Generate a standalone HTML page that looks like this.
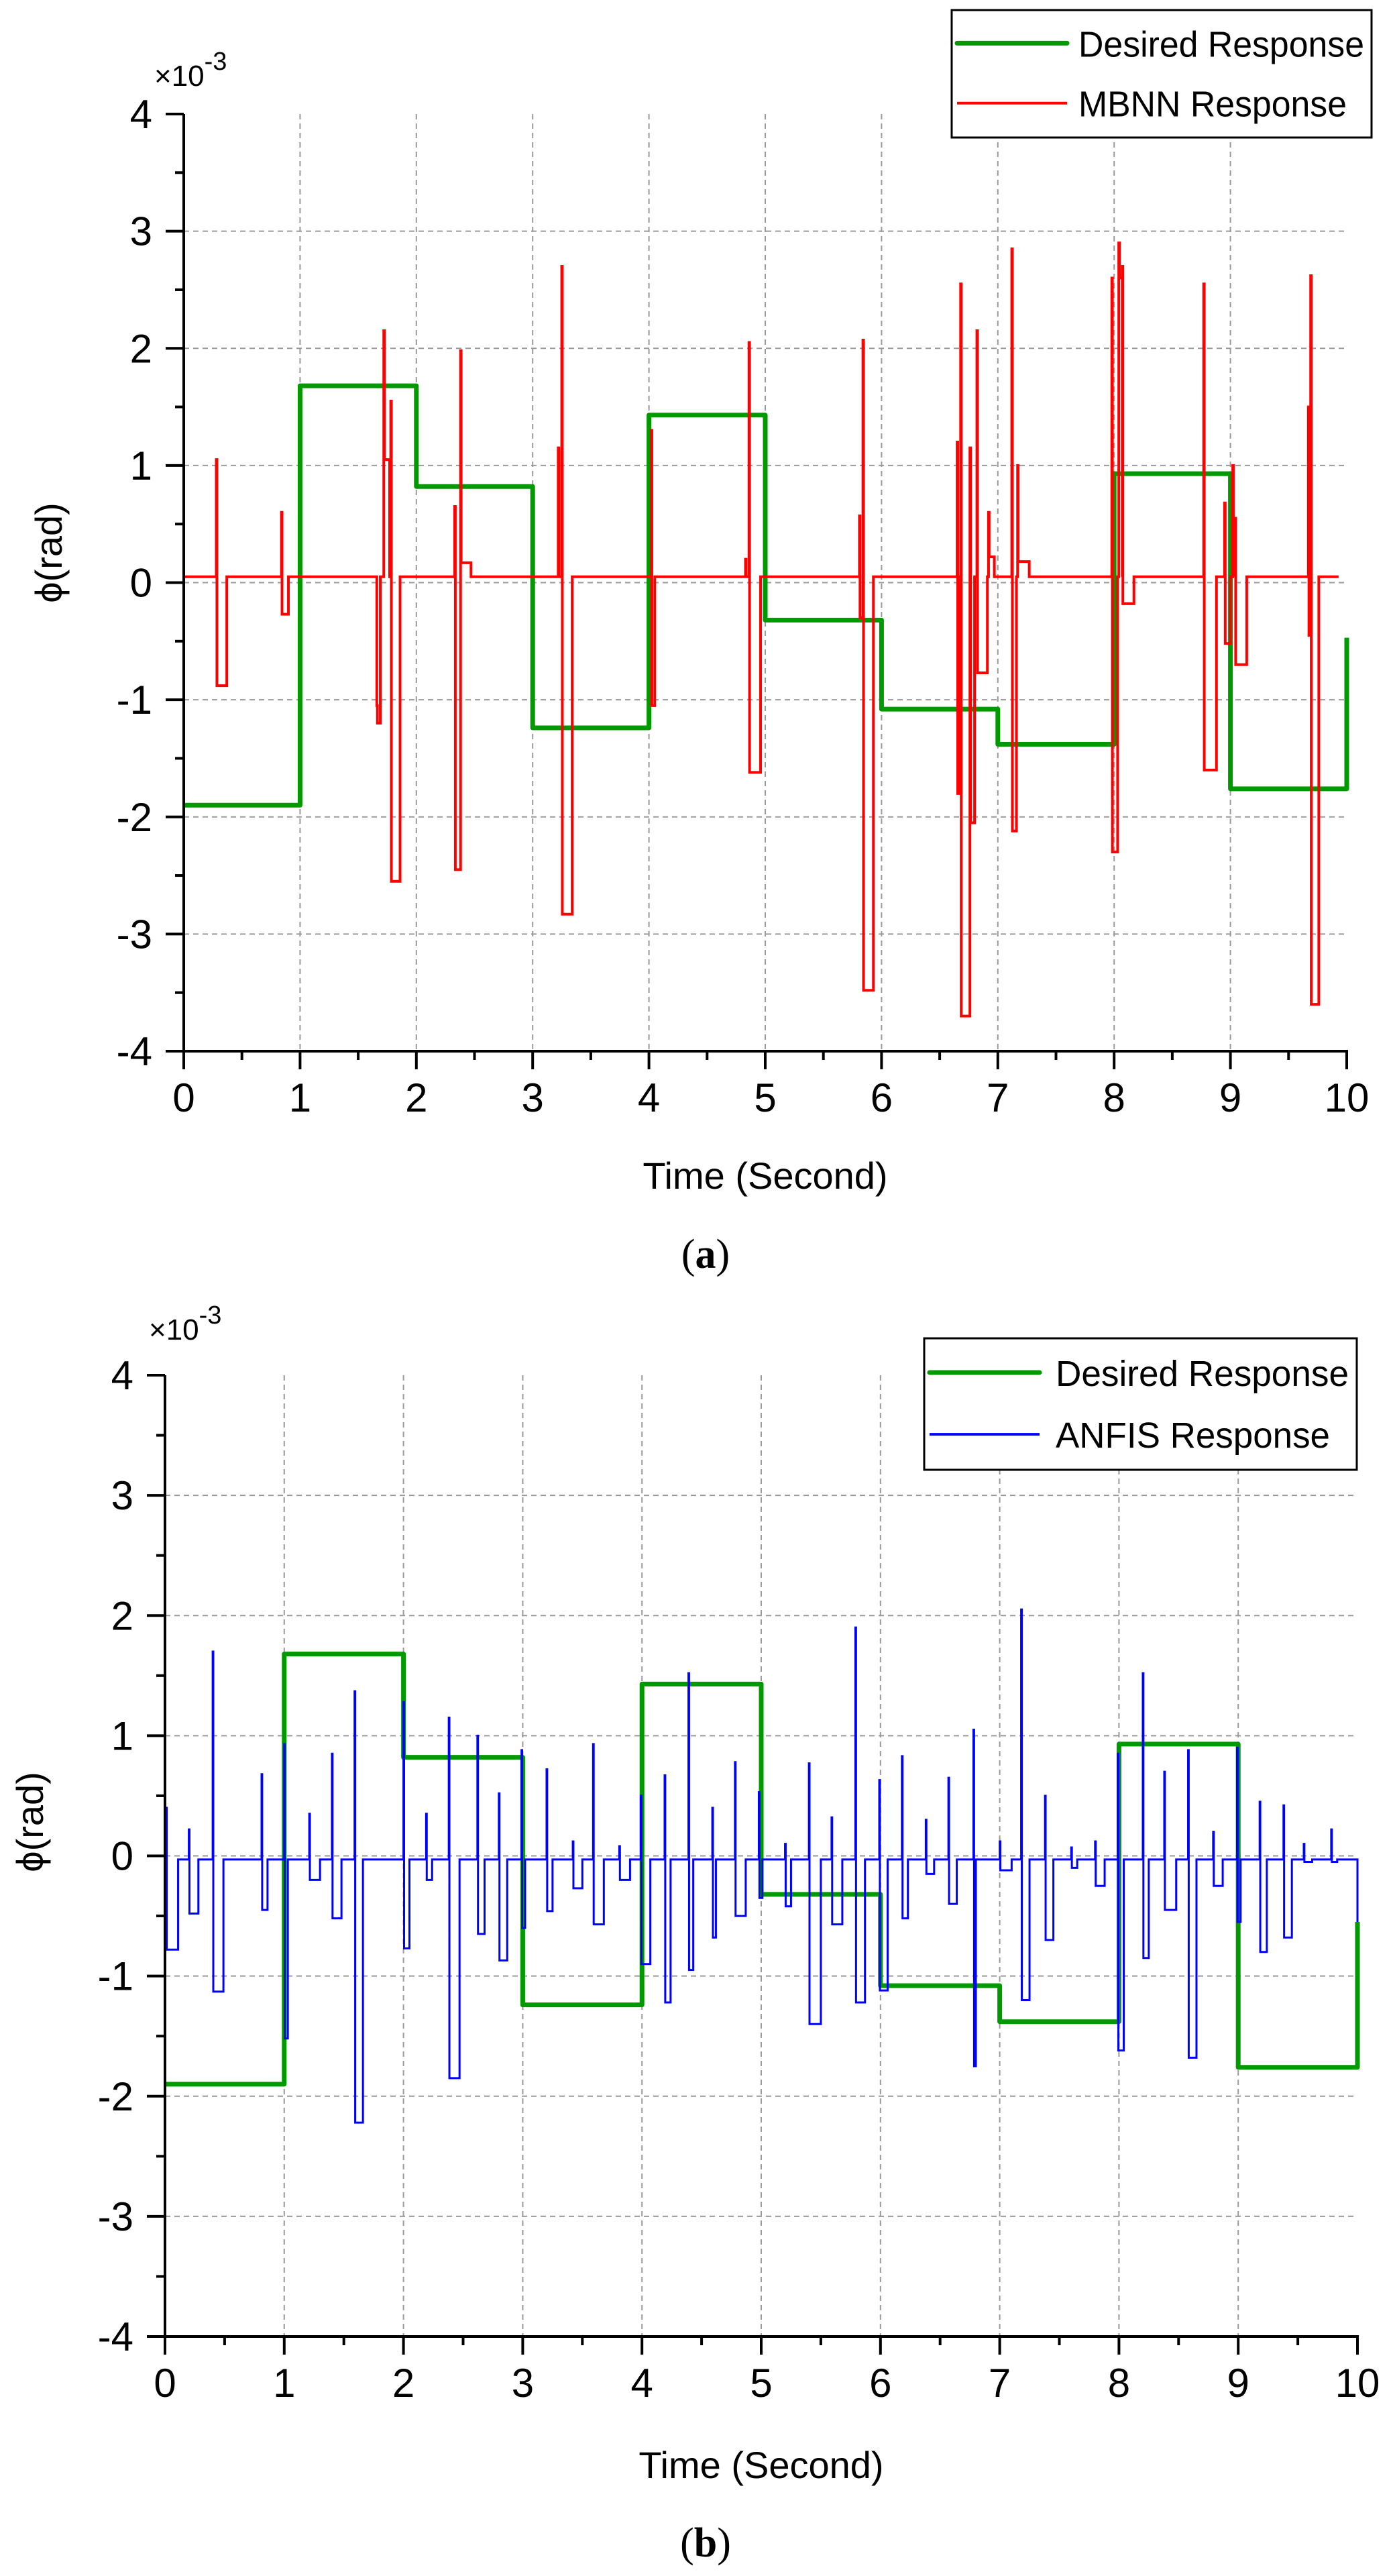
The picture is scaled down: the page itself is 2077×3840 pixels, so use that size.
<!DOCTYPE html>
<html><head><meta charset="utf-8"><style>
html,body{margin:0;padding:0;background:#fff;}
svg{display:block;}
text{font-family:"Liberation Sans",Arial,sans-serif;fill:#000;}
</style></head><body>
<svg id="fig" width="2077" height="3840" viewBox="0 0 2077 3840" xmlns="http://www.w3.org/2000/svg"></svg>
<script>
// ---- data ----
const xTicks = [0,1,2,3,4,5,6,7,8,9,10];
const yTicks = [-4,-3,-2,-1,0,1,2,3,4];
const desiredStart = [0,1,2,3,4,5,6,7,8,9];
const desiredValues = [-1.9,1.68,0.82,-1.24,1.43,-0.32,-1.08,-1.38,0.93,-1.76];
const desiredEndA = -0.47;
const desiredEndB = -0.55;
// MBNN response events: time, spike peak, step level, step duration
const redBase = 0.05;
const redT = [0.28,0.84,1.66,1.72,1.78,2.33,2.38,3.22,3.25,4.02,4.83,4.86,5.81,5.84,6.65,6.68,6.76,6.82,6.92,7.12,7.17,7.98,8.04,8.07,8.77,8.95,9.02,9.04,9.67,9.69];
const redPeak = [1.05,0.6,-1.05,2.15,1.55,0.65,1.98,1.15,2.7,1.3,0.2,2.05,0.57,2.07,1.2,2.55,1.15,2.15,0.6,2.85,1.0,2.6,2.9,2.7,2.55,0.68,1.0,0.55,1.5,2.62];
const redBlock = [-0.88,-0.27,-1.2,1.05,-2.55,-2.45,0.17,0.05,-2.83,-1.05,0.05,-1.62,-0.3,-3.48,-1.8,-3.7,-2.05,-0.77,0.22,-2.12,0.18,-2.3,2.6,-0.18,-1.6,-0.52,0.5,-0.7,-0.45,-3.6];
const redDur = [0.09,0.06,0.03,0.05,0.08,0.05,0.09,0.02,0.09,0.03,0.02,0.1,0.03,0.09,0.02,0.08,0.04,0.09,0.05,0.04,0.1,0.05,0.03,0.1,0.11,0.05,0.02,0.1,0.02,0.07];
const redEnd = 9.93;
// ANFIS response events
const blueBase = -0.03;
const blueT = [0.01,0.2,0.4,0.81,1.0,1.21,1.4,1.59,2.0,2.19,2.38,2.62,2.8,2.99,3.2,3.42,3.59,3.81,3.99,4.19,4.39,4.59,4.78,4.98,5.2,5.4,5.59,5.79,5.99,6.18,6.38,6.57,6.78,7.0,7.18,7.38,7.6,7.8,7.99,8.2,8.38,8.58,8.79,8.99,9.18,9.38,9.55,9.78];
const bluePeak = [0.4,0.22,1.7,0.68,0.93,0.35,0.85,1.37,1.28,0.35,1.15,1.0,0.52,0.88,0.72,0.12,0.93,0.08,0.5,0.67,1.52,0.4,0.78,0.53,0.1,0.77,0.32,1.9,0.63,0.83,0.3,0.65,1.05,0.12,2.05,0.5,0.07,0.12,0.85,1.52,0.7,0.88,0.2,0.9,0.45,0.42,0.1,0.22];
const blueBlock = [-0.78,-0.48,-1.13,-0.45,-1.52,-0.2,-0.52,-2.22,-0.77,-0.2,-1.85,-0.65,-0.87,-0.6,-0.46,-0.27,-0.57,-0.2,-0.9,-1.22,-0.95,-0.68,-0.5,-0.35,-0.42,-1.4,-0.57,-1.22,-1.12,-0.52,-0.15,-0.4,-1.75,-0.12,-1.2,-0.7,-0.1,-0.25,-1.62,-0.85,-0.45,-1.68,-0.25,-0.55,-0.8,-0.68,-0.05,-0.05];
const blueDur = [0.1,0.08,0.09,0.05,0.03,0.09,0.08,0.07,0.05,0.05,0.09,0.06,0.07,0.03,0.05,0.08,0.09,0.09,0.08,0.05,0.04,0.03,0.09,0.03,0.05,0.1,0.09,0.08,0.07,0.05,0.07,0.07,0.02,0.1,0.07,0.07,0.05,0.08,0.05,0.05,0.1,0.07,0.08,0.03,0.06,0.07,0.07,0.05];
const blueEnd = 10.0;
const blueFinal = -0.55;

const NS = "http://www.w3.org/2000/svg";
const fig = document.getElementById('fig');
function mk(tag, attrs, parent){const e=document.createElementNS(NS,tag);for(const k in attrs)e.setAttribute(k,attrs[k]);(parent||fig).appendChild(e);return e;}

function panel(P){
  const g = mk('g',{});
  
  
  const sx = t => P.x0 + (P.x10-P.x0)*t/10;
  const sy = v => P.yB - (P.yB-P.yT)*(v+4)/8;
  const grid = mk('g',{stroke:'#9a9a9a','stroke-width':2,'stroke-dasharray':'8 6',fill:'none'},g);
  
  
  yTicks.forEach(v=>{ if(v>-4 && v<4){ mk('line',{x1:sx(0),x2:sx(10),y1:sy(v),y2:sy(v)},grid);} });
  xTicks.forEach(t=>{ if(t>0 && t<10){ mk('line',{x1:sx(t),x2:sx(t),y1:sy(4),y2:sy(-4)},grid);} });
  let d = 'M'+sx(desiredStart[0])+','+sy(desiredValues[0]);
  for(let i=0;i<desiredValues.length;i++){
    const tEnd = i+1<desiredStart.length?desiredStart[i+1]:10;
    d += ' L'+sx(tEnd)+','+sy(desiredValues[i]);
    if(i+1<desiredValues.length) d += ' L'+sx(tEnd)+','+sy(desiredValues[i+1]);
  }
  d += ' L'+sx(10)+','+sy(P.desEnd);
  const des = mk('path',{d:d,stroke:'#009900','stroke-width':7,fill:'none','stroke-linejoin':'round'},g);
  
  
  const T=P.T,Pk=P.Pk,B=P.B,D=P.D,base=P.base;
  let r = 'M'+sx(0)+','+sy(base);
  for(let i=0;i<T.length;i++){
    r += ' L'+sx(T[i])+','+sy(base)+' L'+sx(T[i])+','+sy(Pk[i])+' L'+sx(T[i]+0.005)+','+sy(Pk[i])+' L'+sx(T[i]+0.005)+','+sy(B[i])+' L'+sx(T[i]+D[i])+','+sy(B[i])+' L'+sx(T[i]+D[i])+','+sy(base);
  }
  r += ' L'+sx(P.end)+','+sy(base);
  if(P.final!==undefined) r += ' L'+sx(P.end)+','+sy(P.final);
  const resp = mk('path',{d:r,stroke:P.color,'stroke-width':P.lw,fill:'none'},g);
  
  
  const ax = mk('g',{stroke:'#000','stroke-width':4,fill:'none'},g);
  
  
  mk('line',{x1:sx(0),x2:sx(0),y1:sy(4),y2:sy(-4)+2},ax);
  mk('line',{x1:sx(0)-27,x2:sx(10)+2,y1:sy(-4),y2:sy(-4)},ax);
  for(let v=-4;v<=4;v+=0.5){ const L=Number.isInteger(v)?27:13; mk('line',{x1:sx(0)-L,x2:sx(0),y1:sy(v),y2:sy(v)},ax); }
  for(let t=0;t<=10;t+=0.5){ const L=Number.isInteger(t)?27:13; mk('line',{x1:sx(t),x2:sx(t),y1:sy(-4),y2:sy(-4)+L},ax); }
  yTicks.forEach(v=>{
    const tx = mk('text',{x:sx(0)-47,y:sy(v)+21,'font-size':60,'text-anchor':'end'},g);
    tx.textContent = String(v);
    
    
  });
  xTicks.forEach(t=>{
    const tx = mk('text',{x:sx(t),y:sy(-4)+90,'font-size':60,'text-anchor':'middle'},g);
    tx.textContent = String(t);
    
    
  });
  const m = mk('text',{x:P.mx,y:P.my,'font-size':44},g);
  m.innerHTML = '×10<tspan dy="-24" font-size="38">-3</tspan>';
  
  
  const yt = mk('text',{x:0,y:0,'font-size':56,'text-anchor':'middle',transform:'translate('+(P.ytx)+','+P.yty+') rotate(-90)'},g);
  yt.textContent = 'ϕ(rad)';
  
  
  const xt = mk('text',{x:P.xtx,y:P.xty,'font-size':56,'text-anchor':'middle'},g);
  xt.textContent = 'Time (Second)';
  
  
  const lg = mk('g',{},g);
  
  
  mk('rect',{x:P.lx,y:P.ly,width:P.lw2,height:P.lh,fill:'#fff',stroke:'#000','stroke-width':3},lg);
  const y1 = P.ly + P.lh*0.26, y2 = P.ly + P.lh*0.73;
  mk('line',{x1:P.lx+8,x2:P.lx+172,y1:y1,y2:y1,stroke:'#009900','stroke-width':7,'stroke-linecap':'round'},lg);
  mk('line',{x1:P.lx+8,x2:P.lx+172,y1:y2,y2:y2,stroke:P.color,'stroke-width':4},lg);
  const t1 = mk('text',{x:P.tx,y:y1+20,'font-size':54,textLength:P.tl1,lengthAdjust:'spacingAndGlyphs'},lg); t1.textContent='Desired Response';
  
  
  const t2 = mk('text',{x:P.tx,y:y2+20,'font-size':54,textLength:P.tl2,lengthAdjust:'spacingAndGlyphs'},lg); t2.textContent=P.legend;
  
  
  const c = mk('text',{x:1052,y:P.capy,'font-size':62,'text-anchor':'middle'},g);
  c.innerHTML = '(<tspan font-weight="bold">'+P.cap+'</tspan>)';
  c.setAttribute('style','font-family:"Liberation Serif",serif');
  
  
}

panel({name:'panel-a-mbnn',x0:274,x10:2008,yT:170,yB:1567,desEnd:desiredEndA,
  T:redT,Pk:redPeak,B:redBlock,D:redDur,base:redBase,end:redEnd,color:'#ff0000',lw:4,respName:'mbnn-response-line',
  mx:230,my:128,ytx:92,yty:824,xtx:1141,xty:1772,lx:1419,ly:15,lw2:626,lh:190,tx:1608,tl1:426,tl2:400,legend:'MBNN Response',cap:'a',capy:1890});
panel({name:'panel-b-anfis',x0:246,x10:2024,yT:2050,yB:3483,desEnd:desiredEndB,
  T:blueT,Pk:bluePeak,B:blueBlock,D:blueDur,base:blueBase,end:blueEnd,final:blueFinal,color:'#0000ff',lw:3,respName:'anfis-response-line',
  mx:222,my:1997,ytx:64,yty:2716,xtx:1135,xty:3694,lx:1378,ly:1995,lw2:645,lh:196,tx:1574,tl1:437,tl2:409,legend:'ANFIS Response',cap:'b',capy:3811});
</script>
</body></html>
